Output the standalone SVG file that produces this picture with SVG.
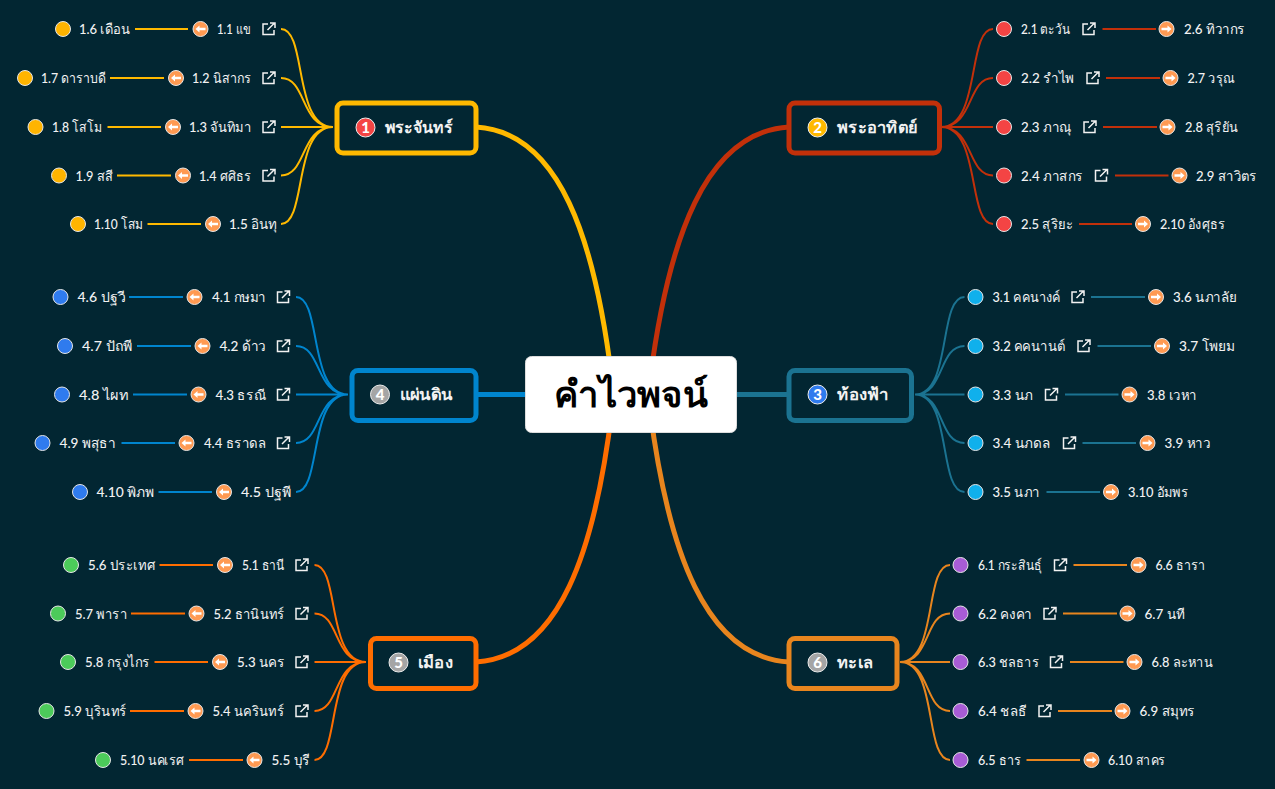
<svg xmlns="http://www.w3.org/2000/svg" width="1275" height="789" viewBox="0 0 1275 789">
<style>
text{font-family:Lato,"Noto Sans",sans-serif;fill:#f2f2f2}
.t{font-size:14px;font-weight:500}
.b{font-size:16px;font-weight:700}
.n{font-size:15px;font-weight:900;fill:#fff;text-anchor:middle}
.main{font-size:36px;font-weight:700;fill:#000;font-family:Lato,sans-serif}
.c1{stroke:#FFB900}.c2{stroke:#C2300A}.c3{stroke:#1B7391}.c4{stroke:#0085CE}.c5{stroke:#FF6D00}.c6{stroke:#E8851E}
#connectors path{fill:none;stroke-width:2}
#connectors path.m{stroke-width:5}
.box{fill:#022632;stroke-width:5}
.dot{stroke:#e6e6e6;stroke-width:1}
</style>
<defs>
<g id="L"><circle r="7.500" fill="#FF9A52" stroke="#e6e6e6"/><path d="M-5 0L-1 -3.500V-1.300H5V1.300H-1V3.500Z" fill="#fff"/></g>
<g id="R"><circle r="7.500" fill="#FF9A52" stroke="#e6e6e6"/><path d="M5 0L1 -3.500V-1.300H-5V1.300H1V3.500Z" fill="#fff"/></g>
<g id="K"><path d="M-1 -5H-6V5.500H5V1M-1.500 1L5.500 -6M1 -6H6V-1" fill="none" stroke="#f2f2f2" stroke-width="1.500"/></g>
</defs>
<rect width="1275" height="789" fill="#022632"/>
<g id="connectors">
<path class="m c1" d="M476 127C560 132 595 240 612 380"/>
<path class="m c2" d="M789 127C705 132 668 240 650 380"/>
<path class="m c5" d="M476 662C560 657 595 550 612 410"/>
<path class="m c6" d="M789 662C705 657 668 550 650 410"/>
<path class="m c4" d="M476 394.500H530"/>
<path class="m c3" d="M732 394.500H789"/>
<g>
<path class="c1" d="M281 29C307 29 293 127 333 127M281 78C307 78 300 127 333 127M281 127H333M281 175.500C307 175.500 300 127 333 127M281 224C307 224 293 127 333 127"/>
<path class="c1" d="M135 29H188M110 78H164M107.500 127H161M117 175.500H171M147.500 224H201"/>
<path class="c2" d="M993 29C967 29 981 127 941 127M993 78C967 78 974 127 941 127M993 127H941M993 175.500C967 175.500 974 127 941 127M993 224C967 224 981 127 941 127"/>
<path class="c2" d="M1102.500 29H1156M1106 78H1160M1103 127H1157M1115 175.500H1168.500M1079 224H1132"/>
<path class="c3" d="M964.500 297C938 297 952 394.500 915 394.500M964.500 346C938 346 945 394.500 915 394.500M964.500 394.500H915M964.500 443C938 443 945 394.500 915 394.500M964.500 492C938 492 952 394.500 915 394.500"/>
<path class="c3" d="M1091 297H1145M1097.500 346H1151M1065 394.500H1118.500M1082.500 443H1136M1046.500 492H1100"/>
<path class="c4" d="M296 297C322 297 308 394.500 348 394.500M296 346C322 346 315 394.500 348 394.500M296 394.500H348M296 443C322 443 315 394.500 348 394.500M296 492C322 492 308 394.500 348 394.500"/>
<path class="c4" d="M129 297H183M137 346H191M133 394.500H187M121.500 443H175M158.500 492H212"/>
<path class="c5" d="M314.500 565C340 565 326 662 366 662M314.500 613.500C340 613.500 333 662 366 662M314.500 662H366M314.500 711C340 711 333 662 366 662M314.500 760C340 760 326 662 366 662"/>
<path class="c5" d="M159.500 565H213M131 613.500H185M154.500 662H208M130 711H184M189 760H243"/>
<path class="c6" d="M950 565C924 565 938 662 900 662M950 613.500C924 613.500 931 662 900 662M950 662H900M950 711C924 711 931 662 900 662M950 760C924 760 938 662 900 662"/>
<path class="c6" d="M1073.500 565H1127M1063 613.500H1117M1070 662H1123.500M1058 711H1112M1026.500 760H1080"/>
</g>
</g>
<g id="root"><rect x="525.500" y="356.500" width="211" height="76" rx="6" fill="#fff" stroke="#ddd"/><text class="main" x="554" y="407" textLength="154" lengthAdjust="spacingAndGlyphs">คำไวพจน์</text></g>

<g id="topic1"><rect class="box c1" x="337" y="103" width="139" height="50" rx="6"/><circle cx="365.500" cy="127.500" r="9.500" fill="#F44444" stroke="#eee"/><text class="n" x="365.500" y="133">1</text><text class="b" x="384.500" y="133" textLength="68.500" lengthAdjust="spacingAndGlyphs">พระจันทร์</text></g>
<g id="topic2"><rect class="box c2" x="789" y="103" width="150.500" height="50" rx="6"/><circle cx="817.500" cy="127.500" r="9.500" fill="#FFB900" stroke="#eee"/><text class="n" x="817.500" y="133">2</text><text class="b" x="837" y="133" textLength="80" lengthAdjust="spacingAndGlyphs">พระอาทิตย์</text></g>
<g id="topic3"><rect class="box c3" x="789" y="370.500" width="122.500" height="50" rx="6"/><circle cx="817.500" cy="394.500" r="9.500" fill="#2F7BEE" stroke="#eee"/><text class="n" x="817.500" y="400">3</text><text class="b" x="837" y="400" textLength="51.500" lengthAdjust="spacingAndGlyphs">ท้องฟ้า</text></g>
<g id="topic4"><rect class="box c4" x="352" y="370.500" width="124" height="50" rx="6"/><circle cx="380" cy="394.500" r="9.500" fill="#A5A5A5" stroke="#eee"/><text class="n" x="380" y="400">4</text><text class="b" x="399.500" y="400" textLength="53.200" lengthAdjust="spacingAndGlyphs">แผ่นดิน</text></g>
<g id="topic5"><rect class="box c5" x="370.500" y="638.500" width="105.500" height="50" rx="6"/><circle cx="398.500" cy="662.500" r="9.500" fill="#A5A5A5" stroke="#eee"/><text class="n" x="398.500" y="668">5</text><text class="b" x="417.500" y="668" textLength="35.500" lengthAdjust="spacingAndGlyphs">เมือง</text></g>
<g id="topic6"><rect class="box c6" x="789" y="638.500" width="108" height="50" rx="6"/><circle cx="817.500" cy="662.500" r="9.500" fill="#A5A5A5" stroke="#eee"/><text class="n" x="817.500" y="668">6</text><text class="b" x="837" y="668" textLength="36" lengthAdjust="spacingAndGlyphs">ทะเล</text></g>

<g fill="#FFB400">
<g id="n1-6"><circle class="dot" cx="63" cy="29" r="7.500"/><text class="t" x="79" y="34" textLength="51" lengthAdjust="spacingAndGlyphs">1.6 เดือน</text></g>
<g id="n1-7"><circle class="dot" cx="25" cy="78" r="7.500"/><text class="t" x="41" y="83" textLength="65" lengthAdjust="spacingAndGlyphs">1.7 ดาราบดี</text></g>
<g id="n1-8"><circle class="dot" cx="35.500" cy="127" r="7.500"/><text class="t" x="52" y="132" textLength="50" lengthAdjust="spacingAndGlyphs">1.8 โสโม</text></g>
<g id="n1-9"><circle class="dot" cx="59" cy="175.500" r="7.500"/><text class="t" x="75.500" y="180.500" textLength="37.500" lengthAdjust="spacingAndGlyphs">1.9 สสี</text></g>
<g id="n1-10"><circle class="dot" cx="78" cy="224" r="7.500"/><text class="t" x="94" y="229" textLength="49" lengthAdjust="spacingAndGlyphs">1.10 โสม</text></g>
</g>
<g id="n1-1"><use href="#L" x="200.500" y="29"/><text class="t" x="217" y="34" textLength="34" lengthAdjust="spacingAndGlyphs">1.1 แข</text><use href="#K" x="269" y="29"/></g>
<g id="n1-2"><use href="#L" x="176" y="78"/><text class="t" x="192" y="83" textLength="59" lengthAdjust="spacingAndGlyphs">1.2 นิสากร</text><use href="#K" x="269" y="78"/></g>
<g id="n1-3"><use href="#L" x="173" y="127"/><text class="t" x="189" y="132" textLength="62" lengthAdjust="spacingAndGlyphs">1.3 จันทิมา</text><use href="#K" x="269" y="127"/></g>
<g id="n1-4"><use href="#L" x="183" y="175.500"/><text class="t" x="199" y="180.500" textLength="52" lengthAdjust="spacingAndGlyphs">1.4 ศศิธร</text><use href="#K" x="269" y="175.500"/></g>
<g id="n1-5"><use href="#L" x="213" y="224"/><text class="t" x="229" y="229" textLength="48" lengthAdjust="spacingAndGlyphs">1.5 อินทุ</text></g>

<g fill="#F44444">
<g id="n2-1"><circle class="dot" cx="1004" cy="29" r="7.500"/><text class="t" x="1021" y="34" textLength="49" lengthAdjust="spacingAndGlyphs">2.1 ตะวัน</text><use href="#K" x="1089" y="29"/></g>
<g id="n2-2"><circle class="dot" cx="1004" cy="78" r="7.500"/><text class="t" x="1021" y="83" textLength="53" lengthAdjust="spacingAndGlyphs">2.2 รำไพ</text><use href="#K" x="1093" y="78"/></g>
<g id="n2-3"><circle class="dot" cx="1004" cy="127" r="7.500"/><text class="t" x="1021" y="132" textLength="50.500" lengthAdjust="spacingAndGlyphs">2.3 ภาณุ</text><use href="#K" x="1090" y="127"/></g>
<g id="n2-4"><circle class="dot" cx="1004" cy="175.500" r="7.500"/><text class="t" x="1021" y="180.500" textLength="62" lengthAdjust="spacingAndGlyphs">2.4 ภาสกร</text><use href="#K" x="1101.500" y="175.500"/></g>
<g id="n2-5"><circle class="dot" cx="1004" cy="224" r="7.500"/><text class="t" x="1021" y="229" textLength="52" lengthAdjust="spacingAndGlyphs">2.5 สุริยะ</text></g>
</g>
<g id="n2-6"><use href="#R" x="1166.500" y="29"/><text class="t" x="1184" y="34" textLength="61" lengthAdjust="spacingAndGlyphs">2.6 ทิวากร</text></g>
<g id="n2-7"><use href="#R" x="1170.500" y="78"/><text class="t" x="1187.500" y="83" textLength="47" lengthAdjust="spacingAndGlyphs">2.7 วรุณ</text></g>
<g id="n2-8"><use href="#R" x="1167.500" y="127"/><text class="t" x="1185" y="132" textLength="53" lengthAdjust="spacingAndGlyphs">2.8 สุริยัน</text></g>
<g id="n2-9"><use href="#R" x="1179.500" y="175.500"/><text class="t" x="1196" y="180.500" textLength="61" lengthAdjust="spacingAndGlyphs">2.9 สาวิตร</text></g>
<g id="n2-10"><use href="#R" x="1143" y="224"/><text class="t" x="1160" y="229" textLength="65" lengthAdjust="spacingAndGlyphs">2.10 อังศุธร</text></g>

<g fill="#10B0EC">
<g id="n3-1"><circle class="dot" cx="975.500" cy="297" r="7.500"/><text class="t" x="992.500" y="302" textLength="68" lengthAdjust="spacingAndGlyphs">3.1 คคนางค์</text><use href="#K" x="1078" y="297"/></g>
<g id="n3-2"><circle class="dot" cx="975.500" cy="346" r="7.500"/><text class="t" x="992.500" y="351" textLength="73" lengthAdjust="spacingAndGlyphs">3.2 คคนานต์</text><use href="#K" x="1084" y="346"/></g>
<g id="n3-3"><circle class="dot" cx="975.500" cy="394.500" r="7.500"/><text class="t" x="992.500" y="399.500" textLength="40.500" lengthAdjust="spacingAndGlyphs">3.3 นภ</text><use href="#K" x="1051.500" y="394.500"/></g>
<g id="n3-4"><circle class="dot" cx="975.500" cy="443" r="7.500"/><text class="t" x="992.500" y="448" textLength="58" lengthAdjust="spacingAndGlyphs">3.4 นภดล</text><use href="#K" x="1069.500" y="443"/></g>
<g id="n3-5"><circle class="dot" cx="975.500" cy="492" r="7.500"/><text class="t" x="992.500" y="497" textLength="47" lengthAdjust="spacingAndGlyphs">3.5 นภา</text></g>
</g>
<g id="n3-6"><use href="#R" x="1156" y="297"/><text class="t" x="1173" y="302" textLength="64" lengthAdjust="spacingAndGlyphs">3.6 นภาลัย</text></g>
<g id="n3-7"><use href="#R" x="1162" y="346"/><text class="t" x="1179" y="351" textLength="56" lengthAdjust="spacingAndGlyphs">3.7 โพยม</text></g>
<g id="n3-8"><use href="#R" x="1129.500" y="394.500"/><text class="t" x="1147" y="399.500" textLength="50" lengthAdjust="spacingAndGlyphs">3.8 เวหา</text></g>
<g id="n3-9"><use href="#R" x="1147.500" y="443"/><text class="t" x="1164.500" y="448" textLength="46" lengthAdjust="spacingAndGlyphs">3.9 หาว</text></g>
<g id="n3-10"><use href="#R" x="1111" y="492"/><text class="t" x="1128" y="497" textLength="60" lengthAdjust="spacingAndGlyphs">3.10 อัมพร</text></g>

<g fill="#2F7BEE">
<g id="n4-6"><circle class="dot" cx="60.500" cy="297" r="7.500"/><text class="t" x="77.500" y="302" textLength="48" lengthAdjust="spacingAndGlyphs">4.6 ปฐวี</text></g>
<g id="n4-7"><circle class="dot" cx="65" cy="346" r="7.500"/><text class="t" x="82" y="351" textLength="50" lengthAdjust="spacingAndGlyphs">4.7 ปัถพี</text></g>
<g id="n4-8"><circle class="dot" cx="62" cy="394.500" r="7.500"/><text class="t" x="79" y="399.500" textLength="49" lengthAdjust="spacingAndGlyphs">4.8 ไผท</text></g>
<g id="n4-9"><circle class="dot" cx="42.500" cy="443" r="7.500"/><text class="t" x="59.500" y="448" textLength="56.500" lengthAdjust="spacingAndGlyphs">4.9 พสุธา</text></g>
<g id="n4-10"><circle class="dot" cx="80" cy="492" r="7.500"/><text class="t" x="96.500" y="497" textLength="57.500" lengthAdjust="spacingAndGlyphs">4.10 พิภพ</text></g>
</g>
<g id="n4-1"><use href="#L" x="194.500" y="297"/><text class="t" x="212" y="302" textLength="54" lengthAdjust="spacingAndGlyphs">4.1 กษมา</text><use href="#K" x="283.500" y="297"/></g>
<g id="n4-2"><use href="#L" x="202.500" y="346"/><text class="t" x="219.500" y="351" textLength="46.500" lengthAdjust="spacingAndGlyphs">4.2 ด้าว</text><use href="#K" x="283.500" y="346"/></g>
<g id="n4-3"><use href="#L" x="198.500" y="394.500"/><text class="t" x="215.500" y="399.500" textLength="50.500" lengthAdjust="spacingAndGlyphs">4.3 ธรณี</text><use href="#K" x="283.500" y="394.500"/></g>
<g id="n4-4"><use href="#L" x="186.500" y="443"/><text class="t" x="204" y="448" textLength="62" lengthAdjust="spacingAndGlyphs">4.4 ธราดล</text><use href="#K" x="283.500" y="443"/></g>
<g id="n4-5"><use href="#L" x="224" y="492"/><text class="t" x="241" y="497" textLength="50" lengthAdjust="spacingAndGlyphs">4.5 ปฐพี</text></g>

<g fill="#4CCB5A">
<g id="n5-6"><circle class="dot" cx="71" cy="565" r="7.500"/><text class="t" x="88" y="570" textLength="67" lengthAdjust="spacingAndGlyphs">5.6 ประเทศ</text></g>
<g id="n5-7"><circle class="dot" cx="58" cy="613.500" r="7.500"/><text class="t" x="75" y="618.500" textLength="52" lengthAdjust="spacingAndGlyphs">5.7 พารา</text></g>
<g id="n5-8"><circle class="dot" cx="68" cy="662" r="7.500"/><text class="t" x="85" y="667" textLength="65" lengthAdjust="spacingAndGlyphs">5.8 กรุงไกร</text></g>
<g id="n5-9"><circle class="dot" cx="46.500" cy="711" r="7.500"/><text class="t" x="63.500" y="716" textLength="63" lengthAdjust="spacingAndGlyphs">5.9 บุรินทร์</text></g>
<g id="n5-10"><circle class="dot" cx="103" cy="760" r="7.500"/><text class="t" x="120" y="765" textLength="64" lengthAdjust="spacingAndGlyphs">5.10 นคเรศ</text></g>
</g>
<g id="n5-1"><use href="#L" x="225" y="565"/><text class="t" x="242" y="570" textLength="42.700" lengthAdjust="spacingAndGlyphs">5.1 ธานี</text><use href="#K" x="302" y="565"/></g>
<g id="n5-2"><use href="#L" x="196.500" y="613.500"/><text class="t" x="213.500" y="618.500" textLength="71" lengthAdjust="spacingAndGlyphs">5.2 ธานินทร์</text><use href="#K" x="302" y="613.500"/></g>
<g id="n5-3"><use href="#L" x="220" y="662"/><text class="t" x="237" y="667" textLength="47.700" lengthAdjust="spacingAndGlyphs">5.3 นคร</text><use href="#K" x="302" y="662"/></g>
<g id="n5-4"><use href="#L" x="195.500" y="711"/><text class="t" x="212.500" y="716" textLength="71.500" lengthAdjust="spacingAndGlyphs">5.4 นครินทร์</text><use href="#K" x="302" y="711"/></g>
<g id="n5-5"><use href="#L" x="254.500" y="760"/><text class="t" x="271.500" y="765" textLength="38.500" lengthAdjust="spacingAndGlyphs">5.5 บุรี</text></g>

<g fill="#A85CD6">
<g id="n6-1"><circle class="dot" cx="960.500" cy="565" r="7.500"/><text class="t" x="978" y="570" textLength="64" lengthAdjust="spacingAndGlyphs">6.1 กระสินธุ์</text><use href="#K" x="1060.500" y="565"/></g>
<g id="n6-2"><circle class="dot" cx="960.500" cy="613.500" r="7.500"/><text class="t" x="978" y="618.500" textLength="54" lengthAdjust="spacingAndGlyphs">6.2 คงคา</text><use href="#K" x="1050" y="613.500"/></g>
<g id="n6-3"><circle class="dot" cx="960.500" cy="662" r="7.500"/><text class="t" x="978" y="667" textLength="61" lengthAdjust="spacingAndGlyphs">6.3 ชลธาร</text><use href="#K" x="1056.500" y="662"/></g>
<g id="n6-4"><circle class="dot" cx="960.500" cy="711" r="7.500"/><text class="t" x="978" y="716" textLength="48.700" lengthAdjust="spacingAndGlyphs">6.4 ชลธี</text><use href="#K" x="1045" y="711"/></g>
<g id="n6-5"><circle class="dot" cx="960.500" cy="760" r="7.500"/><text class="t" x="978" y="765" textLength="43" lengthAdjust="spacingAndGlyphs">6.5 ธาร</text></g>
</g>
<g id="n6-6"><use href="#R" x="1138.500" y="565"/><text class="t" x="1155.500" y="570" textLength="49.500" lengthAdjust="spacingAndGlyphs">6.6 ธารา</text></g>
<g id="n6-7"><use href="#R" x="1127.500" y="613.500"/><text class="t" x="1144.500" y="618.500" textLength="40.500" lengthAdjust="spacingAndGlyphs">6.7 นที</text></g>
<g id="n6-8"><use href="#R" x="1134.500" y="662"/><text class="t" x="1151.500" y="667" textLength="61.500" lengthAdjust="spacingAndGlyphs">6.8 ละหาน</text></g>
<g id="n6-9"><use href="#R" x="1122.500" y="711"/><text class="t" x="1139.500" y="716" textLength="55.500" lengthAdjust="spacingAndGlyphs">6.9 สมุทร</text></g>
<g id="n6-10"><use href="#R" x="1091.500" y="760"/><text class="t" x="1108" y="765" textLength="57.500" lengthAdjust="spacingAndGlyphs">6.10 สาคร</text></g>
</svg>
